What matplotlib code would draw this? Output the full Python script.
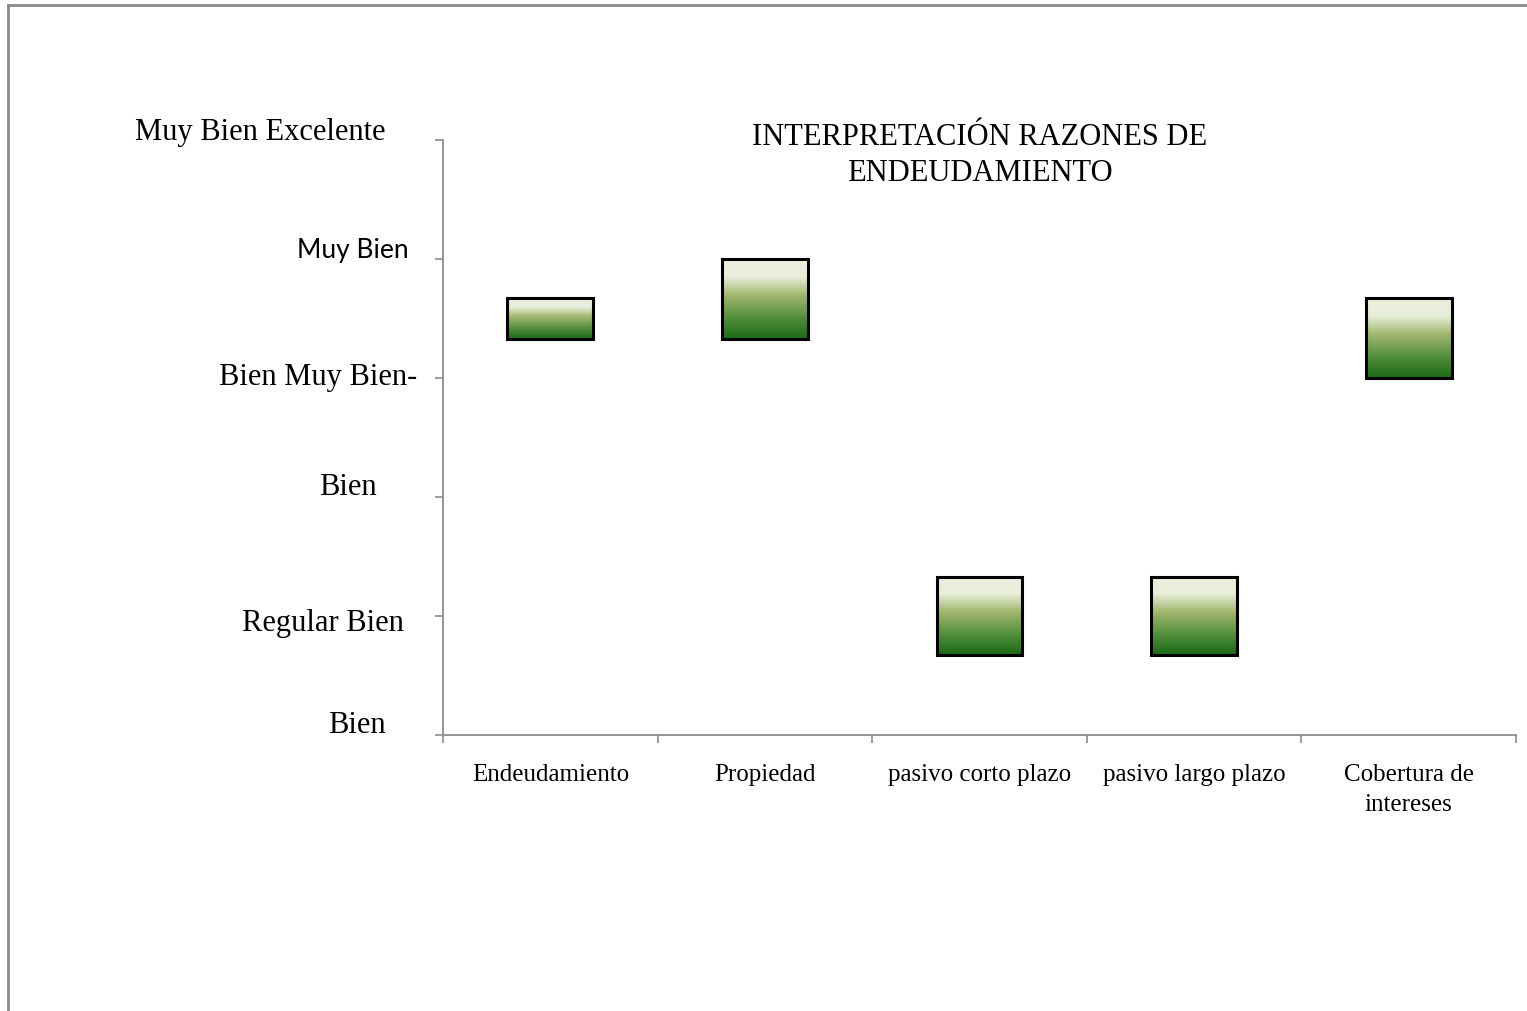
import matplotlib
matplotlib.use("Agg")
import matplotlib.pyplot as plt
from matplotlib.colors import LinearSegmentedColormap
from matplotlib.lines import Line2D
import numpy as np

# data
categorias = ["Endeudamiento", "Propiedad", "pasivo corto plazo",
              "pasivo largo plazo", "Cobertura de\nintereses"]
valor_bajo = [3.33, 3.33, 0.67, 0.67, 3.0]
valor_alto = [3.67, 4.0, 1.33, 1.33, 3.67]
niveles = ["Bien", "Regular Bien", "Bien", "Bien Muy Bien-", "Muy Bien", "Muy Bien Excelente"]

# label placement (axes-x, data-y)
nivel_x = [-0.080, -0.112, -0.089, -0.116, -0.084, -0.170]
nivel_y = [0.08, 0.94, 2.08, 3.0, 4.07, 5.06]

serif = "Liberation Serif"
eje = "#8c8c8c"

fig = plt.figure(figsize=(15.27, 10.11), dpi=100)
ax = fig.add_axes([443 / 1527, 1 - 735 / 1011, 1073 / 1527, 595 / 1011])

verde = LinearSegmentedColormap.from_list(
    "verde", [(0.0, "#1b6a17"), (0.25, "#4f8d3a"), (0.55, "#a2b76e"),
              (0.78, "#e8eedb"), (1.0, "#ebf0dd")])
grad = np.linspace(0, 1, 256).reshape(-1, 1)

x = np.arange(len(categorias))
alto = np.array(valor_alto) - np.array(valor_bajo)
barras = ax.bar(x, alto, bottom=valor_bajo, width=0.4, facecolor="none",
                edgecolor="black", linewidth=2.2, zorder=3)
for b in barras:
    x0, y0 = b.get_x(), b.get_y()
    im = ax.imshow(grad, cmap=verde, origin="lower", aspect="auto",
                   extent=(x0, x0 + b.get_width(), y0, y0 + b.get_height()), zorder=2)
    im.set_clip_path(b)

ax.set_xlim(-0.5, len(categorias) - 0.5)
ax.set_ylim(0, 5)
ax.set_aspect("auto")

for s in ["top", "right"]:
    ax.spines[s].set_visible(False)
for s in ["left", "bottom"]:
    ax.spines[s].set_color(eje)
    ax.spines[s].set_linewidth(1.3)

ax.set_yticks(range(6))
ax.set_yticklabels([])
ax.set_xticks(np.arange(-0.5, len(categorias), 1.0))
ax.set_xticklabels([])
ax.tick_params(axis="both", direction="out", length=6, color=eje, width=1.2)

for i, c in enumerate(categorias):
    ax.text(i, -0.245, c, ha="center", va="top", fontsize=18, family=serif,
            linespacing=1.48, transform=ax.transData)

tr = ax.get_yaxis_transform()
for t, xa, ya in zip(niveles, nivel_x, nivel_y):
    if t == "Muy Bien":
        ax.text(xa, ya, t, ha="center", va="center", fontsize=19, family="Lato",
                transform=tr, clip_on=False)
    else:
        ax.text(xa, ya, t, ha="center", va="center", fontsize=22, family=serif,
                transform=tr, clip_on=False)

ax.text(0.5, 0.974, "INTERPRETACIÓN RAZONES DE\nENDEUDAMIENTO", ha="center",
        va="center", fontsize=22, family=serif, transform=ax.transAxes,
        linespacing=1.33)

# outer chart border (left and top visible)
fig.add_artist(Line2D([8 / 1527, 8 / 1527], [0, 1 - 5 / 1011], color="#8a8a8a",
                      lw=2, transform=fig.transFigure))
fig.add_artist(Line2D([8 / 1527, 1], [1 - 5 / 1011, 1 - 5 / 1011], color="#8a8a8a",
                      lw=2, transform=fig.transFigure))

fig.savefig("out.png", dpi=100)
